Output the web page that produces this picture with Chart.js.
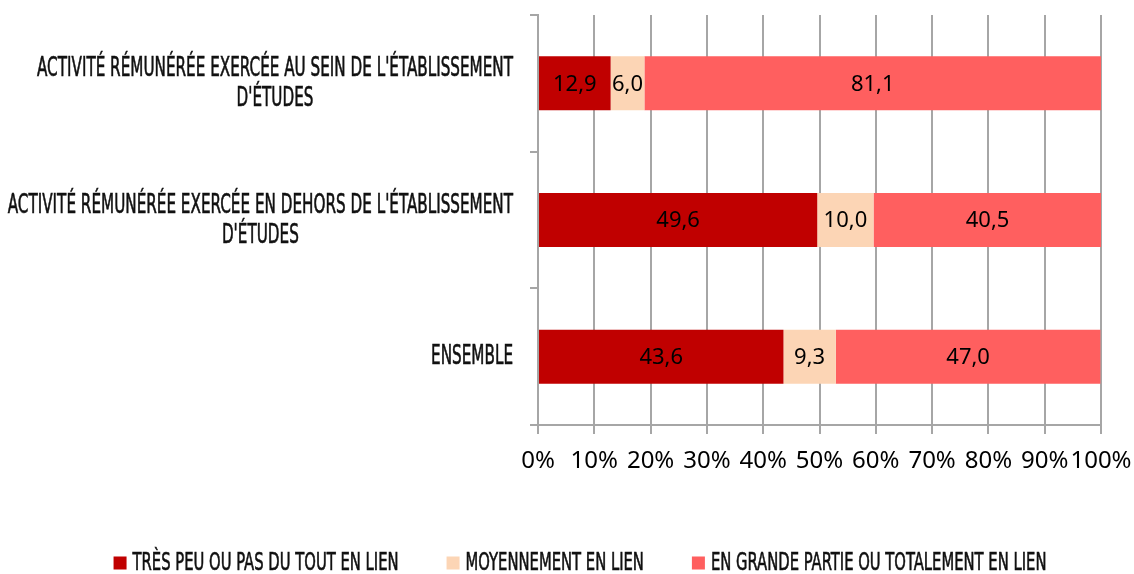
<!DOCTYPE html>
<html lang="fr">
<head>
<meta charset="utf-8">
<title>Lien entre l'activité rémunérée et les études</title>
<script src="https://cdn.jsdelivr.net/npm/chart.js@4.4.1/dist/chart.umd.min.js"></script>
<style>
  html, body { margin: 0; padding: 0; background: #fff; }
  .chart-wrap { position: relative; width: 1134px; height: 574px; }
</style>
</head>
<body>
<div class="chart-wrap"><canvas id="lienChart"></canvas></div>
<script>
// ============== Data ==============
// une entrée par catégorie, une chaîne par ligne
const CATEGORIES = [
  ["ACTIVITÉ RÉMUNÉRÉE EXERCÉE AU SEIN DE L'ÉTABLISSEMENT", "D'ÉTUDES"],
  ["ACTIVITÉ RÉMUNÉRÉE EXERCÉE EN DEHORS DE L'ÉTABLISSEMENT", "D'ÉTUDES"],
  ["ENSEMBLE"],
];
const SERIES_NAMES = [
  "TRÈS PEU OU PAS DU TOUT EN LIEN",
  "MOYENNEMENT EN LIEN",
  "EN GRANDE PARTIE OU TOTALEMENT EN LIEN",
];
const TRES_PEU = [12.9, 49.6, 43.6];
const MOYENNEMENT = [6.0, 10.0, 9.3];
const GRANDE_PARTIE = [81.1, 40.5, 47.0];
const X_MIN = 0;
const X_MAX = 100;
const X_STEP = 10;

// ============== Styles ==============
const COLORS = ["#C00000", "#FCD5B5", "#FF5F5F"];
const GRID = "#a6a6a6";
const NUM_FONT = '"Noto Sans", "Open Sans", sans-serif';
const CAPS_FONT = '"Liberation Sans Narrow", "DejaVu Sans Condensed", sans-serif';
const CAPS_LABEL = `26px ${CAPS_FONT}`;
const CAPS_LEGEND = `24px ${CAPS_FONT}`;
const CAPS_LINE = 30;
const LABEL_REF_WIDTH = 476; // largeur de la 1re ligne de libellé
const LEGEND_REF_WIDTH = 266; // largeur du 1er libellé de légende

// facteur de condensation horizontale pour imiter la police d'origine
function capsScale(ctx, font, text, target) {
  ctx.font = font;
  return target / ctx.measureText(text).width;
}

function drawCaps(ctx, text, x, y, sx) {
  ctx.save();
  ctx.translate(x, y);
  ctx.scale(sx, 1);
  ctx.fillText(text, 0, 0);
  ctx.strokeText(text, 0, 0); // épaissit légèrement le trait
  ctx.restore();
}

function fmt(v) {
  return v.toFixed(1).replace(".", ",");
}

// libellés de catégories (lignes centrées entre elles, bloc aligné à droite)
const yLabelsPlugin = {
  id: "yLabels",
  afterDraw(chart) {
    const { ctx } = chart;
    const y = chart.scales.y;
    ctx.save();
    const sx = capsScale(ctx, CAPS_LABEL, CATEGORIES[0][0], LABEL_REF_WIDTH);
    ctx.fillStyle = "#111";
    ctx.strokeStyle = "#111";
    ctx.lineWidth = 0.6;
    ctx.textAlign = "center";
    ctx.textBaseline = "middle";
    const right = y.right - 25;
    CATEGORIES.forEach((lines, i) => {
      const cy = y.getPixelForValue(i);
      const w = Math.max(...lines.map((l) => ctx.measureText(l).width)) * sx;
      const cx = right - w / 2;
      lines.forEach((line, j) => {
        const ly = cy + (j - (lines.length - 1) / 2) * CAPS_LINE + 1;
        drawCaps(ctx, line, cx, ly, sx);
      });
    });
    ctx.restore();
  },
};

// valeurs au centre de chaque segment
const barValuesPlugin = {
  id: "barValues",
  afterDatasetsDraw(chart) {
    const { ctx } = chart;
    ctx.save();
    ctx.font = `22px ${NUM_FONT}`;
    ctx.fillStyle = "#000";
    ctx.textAlign = "center";
    ctx.textBaseline = "middle";
    chart.data.datasets.forEach((ds, di) => {
      chart.getDatasetMeta(di).data.forEach((bar, i) => {
        const x = (bar.x + bar.base) / 2;
        ctx.fillText(fmt(ds.data[i]), x, bar.y + 1);
      });
    });
    ctx.restore();
  },
};

// légende en bas, même police condensée
const legendPlugin = {
  id: "capsLegend",
  afterDraw(chart) {
    const { ctx } = chart;
    ctx.save();
    const sx = capsScale(ctx, CAPS_LEGEND, SERIES_NAMES[0], LEGEND_REF_WIDTH);
    ctx.textBaseline = "middle";
    ctx.textAlign = "left";
    ctx.lineWidth = 0.6;
    ctx.strokeStyle = "#111";
    const box = 13, gapBox = 6, gapItem = 48;
    const widths = chart.data.datasets.map((ds) => ctx.measureText(ds.label).width * sx);
    const total = widths.reduce((a, w) => a + box + gapBox + w, 0) + gapItem * (widths.length - 1);
    let x = (chart.width - total) / 2 + 13;
    const cy = chart.height - 11;
    chart.data.datasets.forEach((ds, i) => {
      ctx.fillStyle = ds.backgroundColor;
      ctx.fillRect(x, cy - box / 2, box, box);
      ctx.fillStyle = "#111";
      drawCaps(ctx, ds.label, x + box + gapBox, cy + 1, sx);
      x += box + gapBox + widths[i] + gapItem;
    });
    ctx.restore();
  },
};

const seriesData = [TRES_PEU, MOYENNEMENT, GRANDE_PARTIE];

new Chart(document.getElementById("lienChart").getContext("2d"), {
  type: "bar",
  data: {
    labels: CATEGORIES,
    datasets: SERIES_NAMES.map((name, i) => ({
      label: name,
      data: seriesData[i],
      backgroundColor: COLORS[i],
      borderWidth: 0,
      barPercentage: 0.395,
      categoryPercentage: 1,
    })),
  },
  options: {
    indexAxis: "y",
    responsive: true,
    maintainAspectRatio: false,
    animation: false,
    layout: { padding: { top: 15, right: 33, bottom: 89, left: 0 } },
    plugins: {
      legend: { display: false },
      tooltip: { enabled: false },
    },
    scales: {
      x: {
        stacked: true,
        min: X_MIN,
        max: X_MAX,
        ticks: {
          stepSize: X_STEP,
          callback: (v) => v + "%",
          font: { family: NUM_FONT, size: 24 },
          color: "#000",
          padding: 13,
          maxRotation: 0,
          autoSkip: false,
        },
        grid: { color: GRID, lineWidth: 2, tickLength: 9 },
        border: { color: GRID, width: 2 },
        afterFit: (s) => {
          s.height = 60;
          s.paddingLeft = 0;
          s.paddingRight = 0;
        },
      },
      y: {
        stacked: true,
        ticks: { display: false },
        grid: { drawOnChartArea: false, offset: true, tickLength: 8, color: GRID, lineWidth: 2 },
        border: { color: GRID, width: 2 },
        afterFit: (s) => { s.width = 538; },
      },
    },
  },
  plugins: [yLabelsPlugin, barValuesPlugin, legendPlugin],
});
</script>
</body>
</html>
